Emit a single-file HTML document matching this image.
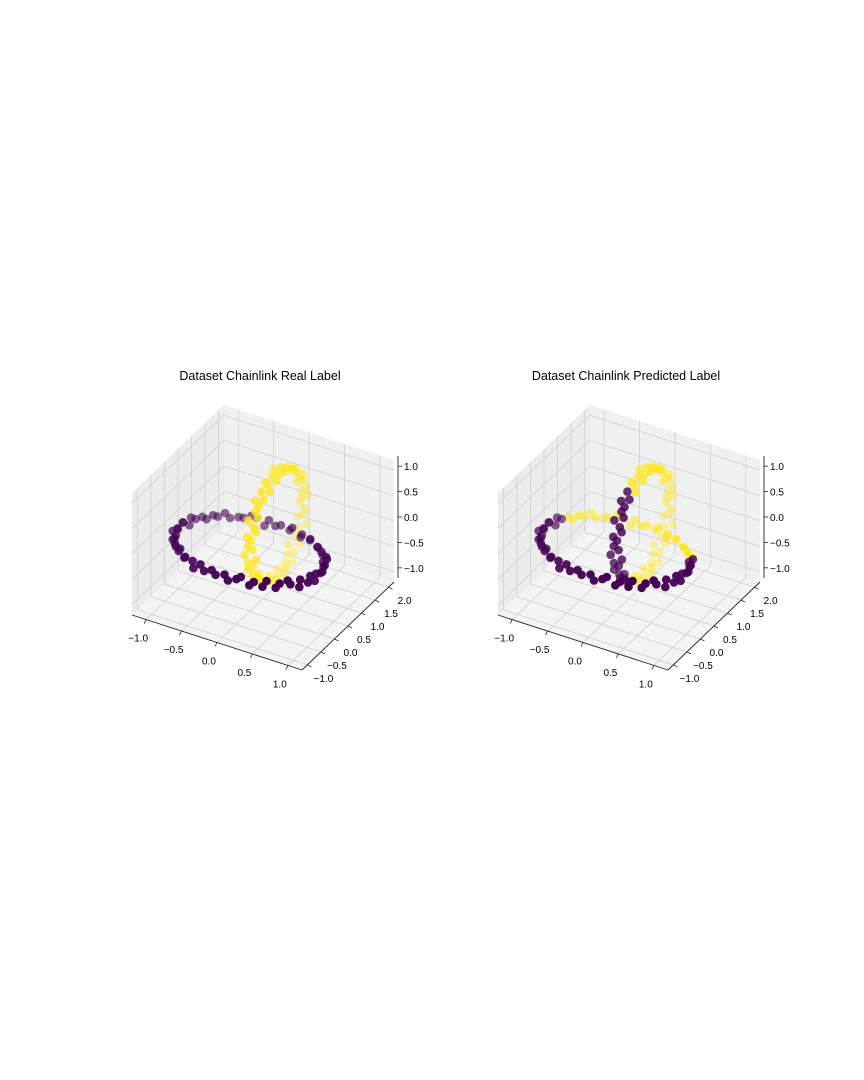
<!DOCTYPE html>
<html><head><meta charset="utf-8"><style>
html,body{margin:0;padding:0;background:#fff;}
svg{display:block;font-family:"Liberation Sans",sans-serif;}
</style></head><body>
<svg id="fig" width="864" height="1080" viewBox="0 0 864 1080">
<rect width="864" height="1080" fill="#fff"/>
</svg>
<script>
const ring1X=[1.02,.97,.99,.95,.96,.88,.89,.80,.78,.70,.66,.55,.52,.40,.36,.24,.19,.07,
-.02,-.10,-.16,-.27,-.33,-.44,-.48,-.59,-.63,-.72,-.75,-.83,-.85,-.92,-.95,-.95,-1.0,-.98,
-1.01,-.98,-.97,-.98,-.93,-.92,-.85,-.83,-.75,-.71,-.63,-.59,-.48,-.44,-.33,-.27,-.16,-.10,
.03,.07,.19,.24,.36,.40,.52,.55,.66,.70,.78,.80,.89,.88,.96,.95,.99,.97];
const ring1Y=[.02,.08,.19,.25,.35,.41,.51,.56,.66,.70,.78,.81,.88,.89,.95,.95,.99,.98,
1.01,.98,.97,.98,.93,.93,.85,.83,.75,.71,.62,.59,.49,.42,.33,.27,.16,.10,
-.01,-.09,-.18,-.27,-.33,-.43,-.49,-.58,-.65,-.70,-.76,-.83,-.85,-.92,-.95,-.97,-.98,-.99,
-1.0,-.98,-.98,-.95,-.95,-.89,-.88,-.81,-.76,-.72,-.63,-.58,-.49,-.43,-.35,-.24,-.18,-.08];
const ring1Z=[.03,-.05,.06,-.02,.08,-.04,.01,.05,-.07,.02,-.03,.06,-.01,.04,-.06,.07,-.02,.03,
-.04,.05,-.08,.02,.06,-.03,.01,-.05,.07,-.02,.04,-.06,.03,-.01,.05,-.07,.02,.06,
-.03,.04,-.05,.08,-.01,.02,-.06,.05,-.02,.07,-.04,.03,.01,-.08,.06,-.03,.04,-.02,
.05,-.06,.02,.07,-.04,.01,-.03,.06,-.05,.03,.08,-.01,-.07,.04,-.02,.05,-.06,.02];
const ring2X=[-.04,.06,-.02,.05,-.07,.03,.01,-.05,.08,-.03,.04,-.06,.02,.07,-.01,-.04,.05,-.08,
.03,-.02,.06,-.05,.01,.07,-.03,.04,-.06,.02,-.01,.05,-.07,.03,.06,-.04,.01,-.02,
.04,-.06,.08,-.03,.02,-.05,.07,-.01,.03,-.04,.06,-.02,-.07,.05,-.03,.01,.04,-.06,
.02,.07,-.05,.03,-.01,.06,-.04,.02,-.08,.05,-.02,.04,-.03,.07,-.06,.01,.03,-.05];
const ring2Y=[2.01,1.99,1.97,1.97,1.93,1.91,1.85,1.83,1.77,1.70,1.65,1.56,1.49,1.43,1.33,1.27,1.16,1.10,
1.02,0.90,0.84,0.73,0.67,0.57,0.52,0.41,0.37,0.28,0.25,0.17,0.14,0.08,0.07,0.02,0.03,-0.01,
0.01,-0.02,0.03,0.02,0.07,0.08,0.15,0.17,0.25,0.28,0.37,0.41,0.52,0.56,0.67,0.73,0.84,0.90,
0.98,1.10,1.16,1.27,1.33,1.43,1.49,1.58,1.63,1.72,1.75,1.83,1.85,1.92,1.93,1.98,1.97,2.01];
const ring2Z=[-.01,.10,.16,.27,.33,.43,.49,.58,.63,.72,.75,.83,.85,.92,.93,.97,.98,1.01,
.99,1.0,.97,.95,.95,.89,.88,.81,.76,.72,.63,.58,.49,.43,.35,.24,.18,.08,
.02,-.10,-.16,-.27,-.33,-.44,-.51,-.56,-.66,-.70,-.78,-.81,-.88,-.89,-.95,-.95,-.99,-.98,
-1.01,-.98,-.97,-.98,-.93,-.93,-.85,-.83,-.75,-.71,-.62,-.59,-.49,-.42,-.33,-.27,-.16,-.10];
const realLabel1=[0,0,0,0,0,0,0,0,0,0,0,0,0,0,0,0,0,0,0,0,0,0,0,0,0,0,0,0,0,0,0,0,0,0,0,0,0,0,0,0,0,0,0,0,0,0,0,0,0,0,0,0,0,0,0,0,0,0,0,0,0,0,0,0,0,0,0,0,0,0,0,0];
const realLabel2=[1,1,1,1,1,1,1,1,1,1,1,1,1,1,1,1,1,1,1,1,1,1,1,1,1,1,1,1,1,1,1,1,1,1,1,1,1,1,1,1,1,1,1,1,1,1,1,1,1,1,1,1,1,1,1,1,1,1,1,1,1,1,1,1,1,1,1,1,1,1,1,1];
const predLabel1=[0,0,0,0,0,0,1,1,1,1,1,1,1,1,1,1,1,1,1,1,1,1,1,1,1,1,1,1,1,1,1,0,0,0,0,0,0,0,0,0,0,0,0,0,0,0,0,0,0,0,0,0,0,0,0,0,0,0,0,0,0,0,0,0,0,0,0,0,0,0,0,0];
const predLabel2=[1,1,1,1,1,1,1,1,1,1,1,1,1,1,1,1,1,1,1,1,1,1,1,1,0,0,0,0,0,0,0,0,0,0,0,0,0,0,0,0,0,0,0,0,0,0,0,0,0,1,1,1,1,1,1,1,1,1,1,1,1,1,1,1,1,1,1,1,1,1,1,1];
const xTicks=[-1.0,-0.5,0.0,0.5,1.0];
const yTicks=[-1.0,-0.5,0.0,0.5,1.0,1.5,2.0];
const zTicks=[-1.0,-0.5,0.0,0.5,1.0];
const titles=["Dataset Chainlink Real Label","Dataset Chainlink Predicted Label"];

const NS="http://www.w3.org/2000/svg";
const fig=document.getElementById('fig');
const XR=[-1.2,1.2],YR=[-1.2,2.2],ZR=[-1.2,1.2];
const COLORS=['#440154','#fde725'];
function mk(tag,attrs,parent){const e=document.createElementNS(NS,tag);for(const k in attrs)e.setAttribute(k,attrs[k]);parent.appendChild(e);return e;}

function drawPanel(ox,title,lab1,lab2,pname){
  const g=mk('g',{},fig);
  
  
  const O=[132+ox,615],Ex=[170,55],Ey=[92,-88],Ez=[0,-122];
  function P(x,y,z){const u=(x-XR[0])/(XR[1]-XR[0]),v=(y-YR[0])/(YR[1]-YR[0]),w=(z-ZR[0])/(ZR[1]-ZR[0]);
    return [O[0]+u*Ex[0]+v*Ey[0]+w*Ez[0],O[1]+u*Ex[1]+v*Ey[1]+w*Ez[1]];}
  function poly(pts,fill,name){const p=mk('polygon',{points:pts.map(q=>q.join(',')).join(' '),fill:fill,stroke:'none'},g);
    }
  poly([P(XR[0],YR[0],ZR[0]),P(XR[0],YR[1],ZR[0]),P(XR[0],YR[1],ZR[1]),P(XR[0],YR[0],ZR[1])],'#ececec','pane-x');
  poly([P(XR[0],YR[1],ZR[0]),P(XR[1],YR[1],ZR[0]),P(XR[1],YR[1],ZR[1]),P(XR[0],YR[1],ZR[1])],'#f0f0f0','pane-y');
  poly([P(XR[0],YR[0],ZR[0]),P(XR[1],YR[0],ZR[0]),P(XR[1],YR[1],ZR[0]),P(XR[0],YR[1],ZR[0])],'#f4f4f4','pane-floor');
  function ln(a,b,c,w,name){const l=mk('line',{x1:a[0],y1:a[1],x2:b[0],y2:b[1],stroke:c,'stroke-width':w},g);
    }
  const gc='#cfcfcf';
  xTicks.forEach(t=>{ln(P(t,YR[0],ZR[0]),P(t,YR[1],ZR[0]),gc,0.8,'grid-x');ln(P(t,YR[1],ZR[0]),P(t,YR[1],ZR[1]),gc,0.8,'grid-x');});
  yTicks.forEach(t=>{ln(P(XR[0],t,ZR[0]),P(XR[1],t,ZR[0]),gc,0.8,'grid-y');ln(P(XR[0],t,ZR[0]),P(XR[0],t,ZR[1]),gc,0.8,'grid-y');});
  zTicks.forEach(t=>{ln(P(XR[0],YR[0],t),P(XR[0],YR[1],t),gc,0.8,'grid-z');ln(P(XR[0],YR[1],t),P(XR[1],YR[1],t),gc,0.8,'grid-z');});
  ln(P(XR[0],YR[0],ZR[0]),P(XR[1],YR[0],ZR[0]),'#222',0.9,'x-axis-line');
  ln(P(XR[1],YR[0],ZR[0]),P(XR[1],YR[1],ZR[0]),'#222',0.9,'y-axis-line');
  const zb=P(XR[1],YR[1],ZR[0]),zt=P(XR[1],YR[1],ZR[1]);
  ln([zb[0]+4,zb[1]-4],[zt[0]+4,zt[1]-4],'#222',0.9,'z-axis-line');
  function txt(x,y,s,anchor,size,name){const t=mk('text',{x:x,y:y,'text-anchor':anchor,'font-size':size,fill:'#000'},g);t.textContent=s;
    }
  xTicks.forEach(t=>{const p=P(t,YR[0],ZR[0]);ln(p,[p[0]-2,p[1]+4],'#222',0.8,'x-tick');txt(p[0]-8,p[1]+22,t.toFixed(1).replace('-','\u2212'),'middle',10,'x-tick-label');});
  yTicks.forEach(t=>{const p=P(XR[1],t,ZR[0]);ln(p,[p[0]+4,p[1]+2],'#222',0.8,'y-tick');txt(p[0]+16,p[1]+17,t.toFixed(1).replace('-','\u2212'),'middle',10,'y-tick-label');});
  zTicks.forEach(t=>{const p=P(XR[1],YR[1],t);ln([p[0]+4,p[1]-4],[p[0]+8,p[1]-4],'#222',0.8,'z-tick');txt(p[0]+10,p[1],t.toFixed(1).replace('-','\u2212'),'start',10,'z-tick-label');});
  txt(ox+260,380,title,'middle',12.5,'chart-title');
  const pts=[];
  ring1X.forEach((x,i)=>pts.push([x,ring1Y[i],ring1Z[i],lab1[i]]));
  ring2X.forEach((x,i)=>pts.push([x,ring2Y[i],ring2Z[i],lab2[i]]));
  const dep=p=>0.433*p[0]-0.75*p[1]+0.5*p[2];
  const ds=pts.map(dep),dmin=Math.min(...ds),dmax=Math.max(...ds);
  pts.sort((a,b)=>dep(a)-dep(b));
  pts.forEach(p=>{const s=P(p[0],p[1],p[2]);const a=0.4+0.6*(dep(p)-dmin)/(dmax-dmin);
    const c=mk('circle',{cx:s[0].toFixed(1),cy:s[1].toFixed(1),r:4.3,fill:COLORS[p[3]],'fill-opacity':a.toFixed(2)},g);
    
    
  });
}
drawPanel(0,titles[0],realLabel1,realLabel2,'real-label-plot');
drawPanel(366,titles[1],predLabel1,predLabel2,'predicted-label-plot');
</script>
</body></html>
